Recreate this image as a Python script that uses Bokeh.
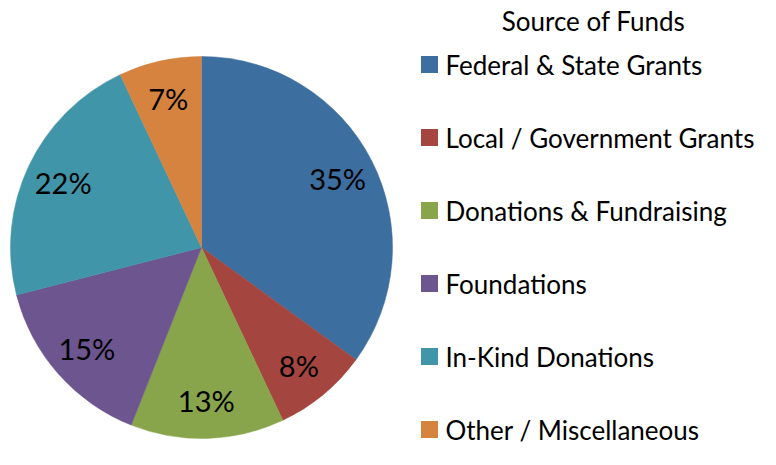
import math
from bokeh.plotting import figure
from bokeh.models import ColumnDataSource
from bokeh.core.properties import value
from bokeh.embed import file_html
from bokeh.resources import INLINE

categories = ["Federal & State Grants", "Local / Government Grants", "Donations & Fundraising",
              "Foundations", "In-Kind Donations", "Other / Miscellaneous"]
shares = [35, 8, 13, 15, 22, 7]
colors = ["#3D6EA0", "#A4463F", "#88A54B", "#6D5590", "#4195A8", "#D6833F"]
legend_title = "Source of Funds"

W, H = 760, 449
FONT = "Lato"

p = figure(width=W, height=H, x_range=(0, W), y_range=(0, H), output_backend="svg",
           toolbar_location=None, min_border=0, outline_line_color=None)
p.axis.visible = False
p.grid.visible = False

cx, cy, R = 201, 202, 191
total = sum(shares)
starts, ends, lx, ly, labels = [], [], [], [], []
cum = 0.0
for s in shares:
    a0 = cum / total
    cum += s
    a1 = cum / total
    starts.append(math.pi / 2 - 2 * math.pi * a1)
    ends.append(math.pi / 2 - 2 * math.pi * a0)
    mid = (a0 + a1) / 2
    ang = math.pi / 2 - 2 * math.pi * mid
    lx.append(cx + 0.8 * R * math.cos(ang))
    ly.append(cy + 0.8 * R * math.sin(ang))
    labels.append(f"{round(100 * s / total)}%")

src = ColumnDataSource(dict(start=starts, end=ends, color=colors, lx=lx, ly=ly, label=labels))
p.wedge(x=cx, y=cy, radius=R, start_angle="start", end_angle="end", fill_color="color",
        line_color="color", line_width=0.5, source=src)
p.text(x="lx", y="ly", text="label", source=src, text_align="center", text_baseline="middle",
       text_font=value(FONT), text_font_size="29px", text_color="#000000")

# legend
n = len(categories)
ys = [H - 64 - 73 * i for i in range(n)]
p.scatter(x=[429] * n, y=ys, marker="square", size=17, fill_color=colors, line_color=None)
p.text(x=[445] * n, y=ys, text=categories, text_align="left", text_baseline="middle",
       text_font=value(FONT), text_font_size="26px", text_color="#000000")
p.text(x=[593], y=[H - 20], text=[legend_title], text_align="center", text_baseline="middle",
       text_font=value(FONT), text_font_size="26px", text_color="#000000")

open("out.html", "w").write(file_html(p, INLINE))
